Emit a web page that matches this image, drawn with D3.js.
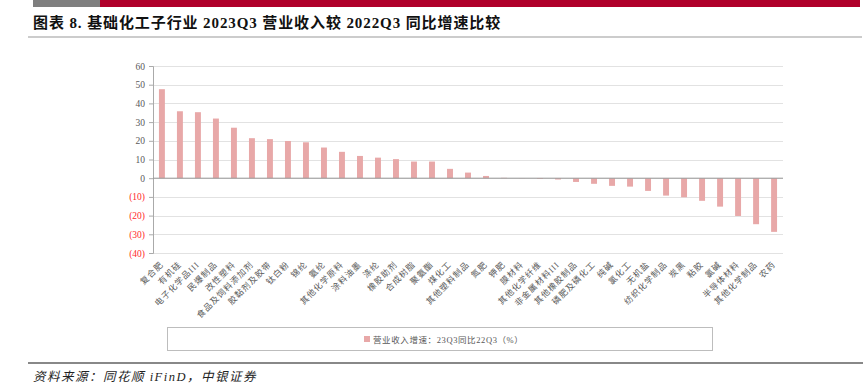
<!DOCTYPE html>
<html>
<head>
<meta charset="utf-8">
<script src="https://cdn.jsdelivr.net/npm/d3@7"></script>
<style>
  body { margin: 0; background: #fff; }
  svg { display: block; }
</style>
</head>
<body>
<svg width="865" height="389"></svg>
<script>
// categories and values (营业收入增速, %)
var categories = ["复合肥", "有机硅", "电子化学品III", "民爆制品", "改性塑料", "食品及饲料添加剂",
  "胶黏剂及胶带", "钛白粉", "锦纶", "氨纶", "其他化学原料", "涂料油墨", "涤纶", "橡胶助剂",
  "合成树脂", "聚氨酯", "煤化工", "其他塑料制品", "氮肥", "钾肥", "膜材料", "其他化学纤维",
  "非金属材料III", "其他橡胶制品", "磷肥及磷化工", "纯碱", "氯化工", "无机盐", "纺织化学制品",
  "炭黑", "粘胶", "氯碱", "半导体材料", "其他化学制品", "农药"];
var growth = [47.6, 35.8, 35.3, 31.9, 27, 21.4, 20.9, 19.9, 19.2, 16.4, 14.1, 11.9, 11, 10.2,
  8.9, 8.9, 5.0, 3.0, 1.2, 0.2, -0.1, -0.4, -0.7, -2, -3, -4.1, -4.5, -6.8, -9.3,
  -10.2, -12.1, -15.2, -20.2, -24.6, -28.7];
var yTicks = [60, 50, 40, 30, 20, 10, 0, -10, -20, -30, -40];

var title = "图表 8. 基础化工子行业 2023Q3 营业收入较 2022Q3 同比增速比较";
var legendLabel = "营业收入增速：23Q3同比22Q3（%）";
var source = "资料来源：同花顺 iFinD，中银证券";

var svg = d3.select("svg");
var serif = "'Liberation Serif', 'Noto Sans CJK SC', serif";

// header bars
svg.append("rect").attr("x", 33).attr("y", 0).attr("width", 67).attr("height", 7).attr("fill", "#7f7f7f");
svg.append("rect").attr("x", 100).attr("y", 0).attr("width", 760).attr("height", 7).attr("fill", "#b0002a");

svg.append("text")
  .attr("x", 33).attr("y", 28)
  .attr("font-family", serif)
  .attr("font-weight", "bold")
  .attr("font-size", 15)
  .attr("letter-spacing", 0.9)
  .attr("fill", "#111")
  .text(title);

svg.append("line").attr("x1", 28).attr("x2", 862).attr("y1", 37).attr("y2", 37)
  .attr("stroke", "#999").attr("stroke-width", 1);

// plot area
var margin = {left: 153, right: 783, top: 66, bottom: 253};

var x = d3.scaleBand()
  .domain(categories)
  .range([margin.left, margin.right])
  .paddingInner(0.67).paddingOuter(0.33);

var y = d3.scaleLinear()
  .domain([-40, 60])
  .range([margin.bottom, margin.top]);

// gridlines
svg.append("g")
  .selectAll("line")
  .data(yTicks)
  .enter().append("line")
  .attr("x1", margin.left).attr("x2", margin.right)
  .attr("y1", function(d) { return Math.round(y(d)) + 0.5; })
  .attr("y2", function(d) { return Math.round(y(d)) + 0.5; })
  .attr("stroke", "#e2e2e2").attr("stroke-width", 1);

// y axis
var yAxis = svg.append("g")
  .attr("transform", "translate(" + margin.left + ",0)")
  .call(d3.axisLeft(y).tickValues(yTicks).tickSize(4).tickPadding(4)
    .tickFormat(function(d) { return d < 0 ? "(" + (-d) + ")" : d; }));
yAxis.select(".domain").attr("stroke", "#aaa");
yAxis.selectAll(".tick line").attr("stroke", "#aaa");
yAxis.selectAll(".tick text")
  .attr("font-family", serif)
  .attr("font-size", 9.5)
  .attr("fill", function(d) { return d < 0 ? "#ff2a2a" : "#595959"; });

// bars
svg.append("g")
  .selectAll("rect")
  .data(growth)
  .enter().append("rect")
  .attr("x", function(d, i) { return x(categories[i]); })
  .attr("width", x.bandwidth())
  .attr("y", function(d) { return y(Math.max(0, d)); })
  .attr("height", function(d) { return Math.abs(y(d) - y(0)); })
  .attr("fill", "#e8a8a8");

// zero line
svg.append("line")
  .attr("x1", margin.left).attr("x2", margin.right)
  .attr("y1", y(0)).attr("y2", y(0))
  .attr("stroke", "#999").attr("stroke-width", 1);

// x labels rotated
svg.append("g")
  .selectAll("text")
  .data(categories)
  .enter().append("text")
  .attr("transform", function(d) {
    var cx = x(d) + x.bandwidth() / 2;
    return "translate(" + (cx + 2) + ",265) rotate(-45)";
  })
  .attr("text-anchor", "end")
  .attr("font-family", serif)
  .attr("font-size", 8.5)
  .attr("letter-spacing", 1)
  .attr("fill", "#595959")
  .text(function(d) { return d; });

// legend
svg.append("rect")
  .attr("x", 167.5).attr("y", 327.5).attr("width", 545).attr("height", 23)
  .attr("fill", "none").attr("stroke", "#bdbdbd");
svg.append("rect")
  .attr("x", 364).attr("y", 336).attr("width", 6).attr("height", 6)
  .attr("fill", "#e8a8a8");
svg.append("text")
  .attr("x", 373).attr("y", 342.5)
  .attr("font-family", serif)
  .attr("font-size", 8.5)
  .attr("letter-spacing", 0.6)
  .attr("fill", "#595959")
  .text(legendLabel);

// bottom rule and source
svg.append("line").attr("x1", 28).attr("x2", 863).attr("y1", 363).attr("y2", 363)
  .attr("stroke", "#888").attr("stroke-width", 2);
svg.append("text")
  .attr("x", 33).attr("y", 381)
  .attr("font-family", serif)
  .attr("font-style", "italic")
  .attr("font-size", 12.5)
  .attr("letter-spacing", 1.5)
  .attr("fill", "#222")
  .text(source);
</script>
</body>
</html>
